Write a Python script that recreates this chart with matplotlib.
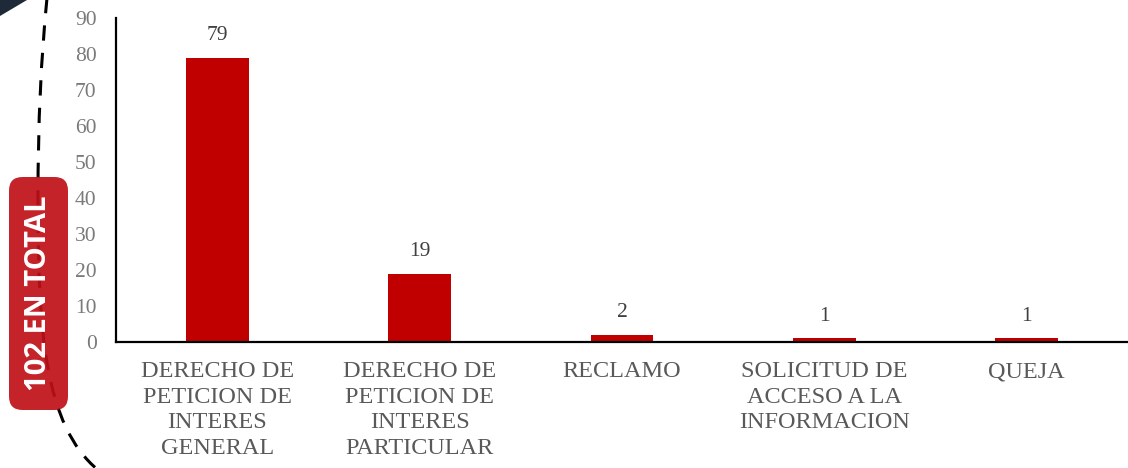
import matplotlib.pyplot as plt
from matplotlib.patches import FancyBboxPatch, PathPatch, Polygon
from matplotlib.path import Path
from matplotlib.transforms import Affine2D

categories = ['DERECHO DE\nPETICION DE\nINTERES\nGENERAL',
              'DERECHO DE\nPETICION DE\nINTERES\nPARTICULAR',
              'RECLAMO',
              'SOLICITUD DE\nACCESO A LA\nINFORMACION',
              'QUEJA']
values = [79, 19, 2, 1, 1]
yticks = [0, 10, 20, 30, 40, 50, 60, 70, 80, 90]
total_label = '102 EN TOTAL'

W, H = 1128, 468
fig = plt.figure(figsize=(W / 100, H / 100), dpi=100)
serif = ['Liberation Serif', 'DejaVu Serif']

# pixel coords (origin top-left) -> figure
px = Affine2D().scale(1 / W, -1 / H).translate(0, 1) + fig.transFigure

# dashed arc on the left
verts = [(47, -2), (41, 60), (38, 120), (38, 200),
         (38, 330), (44, 425), (98, 470)]
codes = [Path.MOVETO, Path.CURVE4, Path.CURVE4, Path.CURVE4,
         Path.CURVE4, Path.CURVE4, Path.CURVE4]
arc = PathPatch(Path(verts, codes), transform=px, fill=False,
                edgecolor='black', lw=2.2, linestyle=(0, (5, 4)))
fig.patches.append(arc)

# dark corner shape
corner = Polygon([(0, 0), (27, 0), (0, 16)], closed=True, transform=px,
                 facecolor='#1f2a38', edgecolor='none')
fig.patches.append(corner)

# red total box
box = FancyBboxPatch((9 / W, 1 - 410 / H), 59 / W, 233 / H,
                     boxstyle='round,pad=0,rounding_size=0.012',
                     transform=fig.transFigure, facecolor='#C01018',
                     edgecolor='none', alpha=0.92, mutation_aspect=W / H)
fig.patches.append(box)
fig.text(38.5 / W, 1 - 293 / H, total_label, rotation=90, color='white',
         fontsize=21, fontweight='bold', family=['Open Sans', 'DejaVu Sans'],
         ha='center', va='center')

ax = fig.add_axes([116 / W, 1 - 342 / H, 1012 / W, 324 / H])
x = range(len(values))
bars = ax.bar(x, values, width=0.31, color='#C00000')
ax.set_xlim(-0.5, len(values) - 0.5)
ax.set_ylim(0, 90)
ax.set_yticks(yticks)
ax.set_xticks(list(x))
ax.set_xticklabels(categories, family=serif, fontsize=17.5, color='#595959',
                   linespacing=1.28)
for lab in ax.get_yticklabels():
    lab.set_family(serif)
    lab.set_fontsize(15.5)
    lab.set_color('#7a7a7a')
ax.tick_params(axis='y', length=0, pad=14)
ax.tick_params(axis='x', length=0, pad=14)

for b, v in zip(bars, values):
    ax.annotate(str(v), (b.get_x() + b.get_width() / 2, v),
                xytext=(0, 9), textcoords='offset points', ha='center',
                va='bottom', family=serif, fontsize=15.5, color='#404040')

for s in ['top', 'right']:
    ax.spines[s].set_visible(False)
for s in ['left', 'bottom']:
    ax.spines[s].set_linewidth(1.6)
    ax.spines[s].set_color('black')
ax.patch.set_alpha(0)

fig.savefig('out.png', dpi=100)
